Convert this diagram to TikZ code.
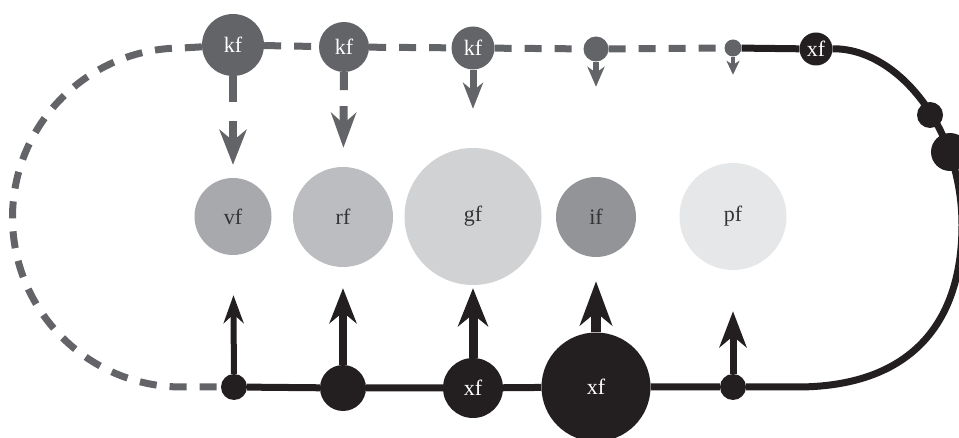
\documentclass[tikz,border=0pt]{standalone}
\usepackage{fontspec}
\setmainfont{Liberation Serif}
\usetikzlibrary{arrows.meta,backgrounds}
\definecolor{kfgray}{RGB}{99,100,104}
\definecolor{xfblack}{RGB}{35,31,32}
\definecolor{vfgray}{RGB}{168,169,173}
\definecolor{rfgray}{RGB}{188,189,192}
\definecolor{gfgray}{RGB}{209,210,212}
\definecolor{ifgray}{RGB}{147,148,152}
\definecolor{pfgray}{RGB}{230,231,232}
\tikzset{ball/.style={circle,draw=none,inner sep=0pt,minimum size=#1},
         kfball/.style={ball=#1,fill=kfgray,text=white},
         xfball/.style={ball=#1,fill=xfblack,text=white},
         stage/.style 2 args={ball=#1,fill=#2,text=black!80},
         dashline/.style={kfgray,line width=7pt,dash pattern=on 17pt off 13pt},
         solidline/.style={xfblack,line width=7pt},
         downarrow/.style n args={4}{kfgray,line width=#1,-{Stealth[length=#2,width=#3,inset=#4]}},
         uparrow/.style n args={4}{xfblack,line width=#1,-{Stealth[length=#2,width=#3,inset=#4]}}
}

\begin{document}
\begin{tikzpicture}[x=1pt,y=1pt,yscale=-1,xscale=1,font=\fontsize{22}{26}\selectfont]
\useasboundingbox (0,0) rectangle (959,438);

%Top row
\node [kfball=62pt] (k1) at (233,45) {kf};
\node [kfball=50pt] (k2) at (344,47) {kf};
\node [kfball=43pt] (k3) at (473,48) {kf};
\node [kfball=25pt] (k4) at (596,49) {};
\node [kfball=17pt] (k5) at (733,48) {};
\node [xfball=33pt] (xt) at (816,49) {xf};
%Dots on the right bend
\node [xfball=26pt] (r1) at (930,115) {};
\node [xfball=38pt] (r2) at (950,152) {};

%Middle row
\node [stage={77pt}{vfgray}] (vf) at (233,216.5) {vf};
\node [stage={100pt}{rfgray}] (rf) at (343,217) {rf};
\node [stage={137pt}{gfgray}] (gf) at (473,216.5) {gf};
\node [stage={80pt}{ifgray}] (if) at (596,217) {if};
\node [stage={107pt}{pfgray}] (pf) at (733,216.5) {pf};

%Bottom row
\node [xfball=26pt] (b1) at (234,387) {};
\node [xfball=46pt] (b2) at (343,388) {};
\node [xfball=60pt] (b3) at (473,388) {xf};
\node [xfball=109pt] (b4) at (596,387) {xf};
\node [xfball=26pt] (b5) at (733,387) {};

\begin{pgfonlayer}{background}
%Loop
\draw [dashline] (k1) -- (182,48) arc [start angle=270, end angle=90, radius=169.5] -- (b1);
\draw [dashline] (k1) -- (k2) -- (k3) -- (k4) -- (k5);
\draw [solidline] (k5) -- (xt) .. controls (897,48) and (962,127) .. (962,225)
      .. controls (962,330) and (904,387) .. (797,387) -- (b5) -- (b4) -- (b3) -- (b2) -- (b1);
\end{pgfonlayer}

%Down arrows
\draw [downarrow={8pt}{35pt}{27pt}{11pt}, dash pattern=on 26pt off 19pt, shorten >=13pt] (k1) -- (vf);
\draw [downarrow={8pt}{35pt}{25pt}{11pt}, dash pattern=on 18pt off 16pt, shorten >=19pt] (k2) -- (rf);
\draw [downarrow={7pt}{26pt}{20pt}{8pt}, shorten >=39pt] (k3) -- (gf);
\draw [downarrow={6pt}{20pt}{17pt}{6pt}, shorten >=90pt] (k4) -- (if);
\draw [downarrow={4.5pt}{14pt}{13pt}{4pt}, shorten >=88pt] (k5) -- (pf);

%Up arrows
\draw [uparrow={6pt}{28pt}{20pt}{9pt}, shorten >=40pt] (b1) -- (vf);
\draw [uparrow={7.5pt}{35pt}{27pt}{11pt}, shorten >=21pt] (b2) -- (rf);
\draw [uparrow={9pt}{38pt}{30pt}{12pt}, shorten >=3pt] (b3) -- (gf);
\draw [uparrow={10pt}{44pt}{32pt}{13pt}, shorten >=24pt] (b4) -- (if);
\draw [uparrow={7pt}{36pt}{27pt}{11pt}, shorten >=41pt] (b5) -- (pf);

\end{tikzpicture}
\end{document}
